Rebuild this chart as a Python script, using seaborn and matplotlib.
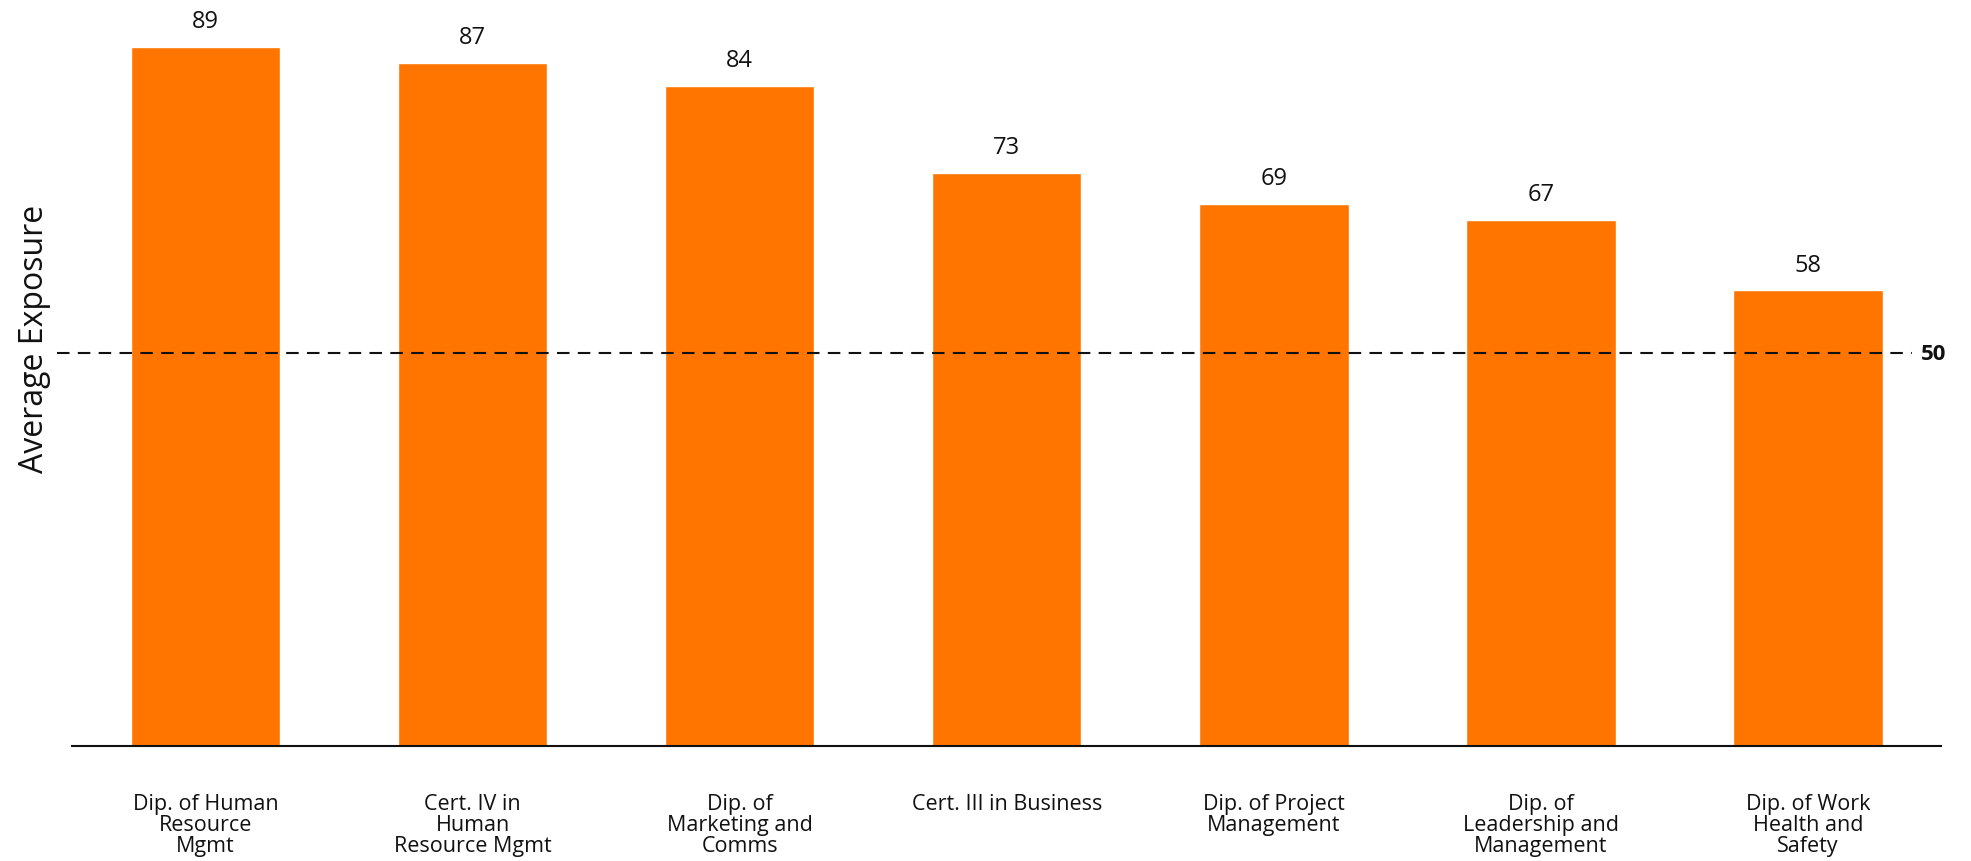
import pandas as pd
import seaborn as sns
import matplotlib.pyplot as plt
import matplotlib.transforms as mtransforms

sns.set_theme(style="white")
plt.rcParams['font.family'] = ['Open Sans', 'DejaVu Sans']

COURSES = ['Dip. of Human\nResource\nMgmt',
           'Cert. IV in\nHuman\nResource Mgmt',
           'Dip. of\nMarketing and\nComms',
           'Cert. III in Business',
           'Dip. of Project\nManagement',
           'Dip. of\nLeadership and\nManagement',
           'Dip. of Work\nHealth and\nSafety']
EXPOSURE = [89, 87, 84, 73, 69, 67, 58]
BENCHMARK = 50

BAR_COLOR = '#FF7500'


def plot_exposure(df: pd.DataFrame):
    fig = plt.figure(figsize=(19.71, 8.62), dpi=100)
    ax = fig.add_axes([0.0365, 0.1334, 0.9485, 0.863])

    sns.barplot(x='course', y='exposure', data=df, color=BAR_COLOR,
                width=0.56, saturation=1, ax=ax)

    # value labels above bars
    for i, v in enumerate(df['exposure']):
        ax.annotate(f'{v}', (i, v), xytext=(0, 10), textcoords='offset points',
                    ha='center', va='bottom', fontsize=17, color='#111111')

    # benchmark line
    ax.axhline(BENCHMARK, xmin=-0.008, xmax=0.984, color='#111111', lw=1.5,
               dashes=(6, 4), clip_on=False)
    trans = mtransforms.blended_transform_factory(ax.transAxes, ax.transData)
    ax.text(0.989, BENCHMARK, f'{BENCHMARK}', transform=trans, ha='left',
            va='center', fontsize=16, fontweight='bold', color='#111111')

    ax.set_xlim(-0.5, 6.5)
    ax.set_ylim(0, 94.7)
    ax.set_xlabel('')
    ax.set_ylabel('Average Exposure', fontsize=23, color='#111111',
                  labelpad=15, y=0.548)
    ax.set_yticks([])
    ax.tick_params(axis='x', length=0, pad=34, labelsize=15.5, labelcolor='#111111')
    for lbl in ax.get_xticklabels():
        lbl.set_linespacing(1.0)
        lbl.set_verticalalignment('top')

    sns.despine(ax=ax, left=True)
    ax.spines['bottom'].set_color('#111111')
    ax.spines['bottom'].set_linewidth(1.5)

    fig.savefig('out.png', dpi=100)


if __name__ == "__main__":
    df = pd.DataFrame({'course': COURSES, 'exposure': EXPOSURE})
    plot_exposure(df)
